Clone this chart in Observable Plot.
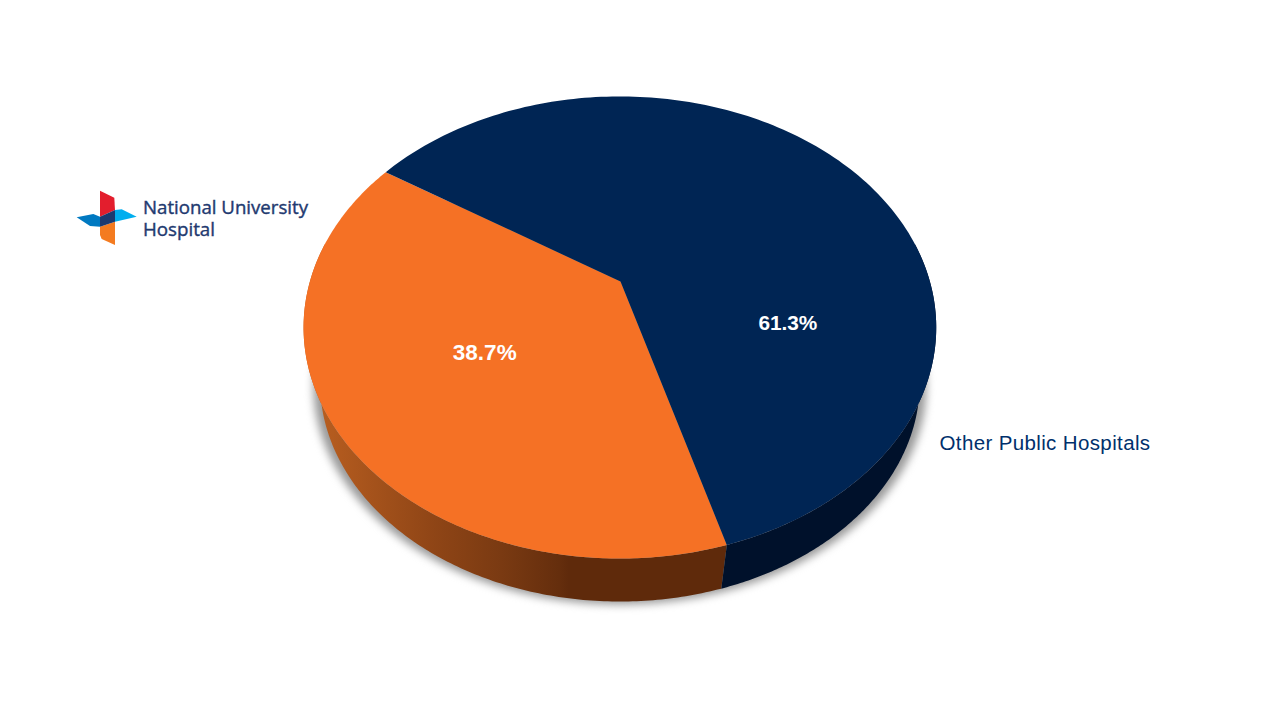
<!DOCTYPE html>
<html>
<head>
<meta charset="utf-8">
<script src="https://cdn.jsdelivr.net/npm/d3@7"></script>
<script src="https://cdn.jsdelivr.net/npm/@observablehq/plot@0.6"></script>
<style>
html,body{margin:0;padding:0;background:#fff;}
svg{display:block;}
</style>
</head>
<body>
<div id="chart"></div>
<script>
// Data
const categories = ["National University Hospital", "Other Public Hospitals"];
const shares = [38.7, 61.3];
const valueLabels = ["38.7%", "61.3%"];
const outsideLabel = "Other Public Hospitals";
const logoLines = ["National University", "Hospital"];

// Layout: perspective view of the tilted pie, in page pixels
const pieView = {cx: 619.4, apexY: 281, R: 310, S: 221.9, k: 0.199, startDeg: -16.2,
  baseScale: 0.948, baseApexY: 338.4, wallLimitDeg: 100};
const colors = {orange: "#F57125", navy: "#002554", navyWall: "#00112B", label: "#00306C"};
const rad = d => d * Math.PI / 180;

function topPoint(t, r = 1) {
  const u = -Math.sin(t) * r, v = Math.cos(t) * r, w = 1 - pieView.k * v;
  return {x: pieView.cx + pieView.R * u / w, y: pieView.apexY + pieView.S * v / w};
}
function basePoint(t) {
  const u = -Math.sin(t), v = Math.cos(t), w = 1 - pieView.k * v, s = pieView.baseScale;
  return {x: pieView.cx + s * pieView.R * u / w, y: pieView.baseApexY + s * pieView.S * v / w};
}
function angles(a, b, n = 180) {
  return d3.range(n + 1).map(i => rad(a + (b - a) * i / n));
}

// Slice angles come from the shares
const total = d3.sum(shares);
let acc = pieView.startDeg;
const slices = categories.map((c, i) => {
  const a = acc, b = acc + shares[i] / total * 360;
  acc = b;
  return {category: c, a, b};
});

const faceRows = slices.flatMap(s => [
  {category: s.category, x: pieView.cx + 0.6, y: pieView.apexY},
  ...angles(s.a, s.b).map(t => ({category: s.category, ...topPoint(t)}))
]);
function wall(a, b) {
  const ts = angles(a, b);
  return [...ts.map(t => topPoint(t)), ...ts.slice().reverse().map(t => basePoint(t))];
}
const orangeWall = wall(slices[0].a, pieView.wallLimitDeg);
const navyWall = wall(slices[0].a, -pieView.wallLimitDeg);
const shadowRows = angles(0, 360, 360).map(t => basePoint(t))
  .map(p => ({x: pieView.cx + (p.x - pieView.cx) * 1.022, y: p.y + 3}));

// Label placement in the pie plane (radius, angle)
const labelPlace = [{deg: 53.8, r: 0.508}, {deg: -70.8, r: 0.553}];
const labelRows = valueLabels.map((text, i) => ({text, ...topPoint(rad(labelPlace[i].deg), labelPlace[i].r)}));

const plot = Plot.plot({
  width: 1280, height: 720, margin: 0,
  x: {domain: [0, 1280], range: [0, 1280], axis: null},
  y: {domain: [0, 720], range: [0, 720], axis: null},
  color: {domain: categories, range: [colors.orange, colors.navy]},
  style: {background: "#fff"},
  marks: [
    Plot.line(shadowRows, {x: "x", y: "y", fill: "#999999", stroke: "none", imageFilter: "blur(4.5px)"}),
    Plot.line(orangeWall, {x: "x", y: "y", fill: "url(#orangeWall)", stroke: "none"}),
    Plot.line(navyWall, {x: "x", y: "y", fill: colors.navyWall, stroke: "none"}),
    Plot.line(faceRows, {x: "x", y: "y", z: "category", fill: "category", stroke: "none"}),
    Plot.text(labelRows.slice(0, 1), {x: "x", y: "y", text: "text", fill: "#fff", fontWeight: "bold", fontSize: 22.5, fontFamily: "Liberation Sans"}),
    Plot.text(labelRows.slice(1), {x: "x", y: "y", text: "text", fill: "#fff", fontWeight: "bold", fontSize: 20.8, fontFamily: "Liberation Sans"}),
    Plot.text([outsideLabel], {x: () => 939, y: () => 443, text: d => d, textAnchor: "start", fill: colors.label, fontSize: 20.5, fontFamily: "Liberation Sans"})
  ]
});
document.getElementById("chart").append(plot);

const svg = d3.select(plot);
svg.selectAll("text").filter(function () { return this.textContent === outsideLabel; }).style("letter-spacing", "0.37px");

// Wall gradient
const grad = svg.insert("defs", ":first-child").append("linearGradient")
  .attr("id", "orangeWall").attr("gradientUnits", "userSpaceOnUse")
  .attr("x1", 318).attr("x2", 1280).attr("y1", 0).attr("y2", 0);
[[0, "#B85E20"], [0.12, "#8F4516"], [0.19, "#7A3A12"], [0.25, "#652E0D"], [0.26, "#5F2A0B"], [1, "#5F2A0B"]]
  .forEach(([o, c]) => grad.append("stop").attr("offset", o).attr("stop-color", c));

// Logo
const logo = svg.append("g").attr("aria-label", "logo");
[
  ["#E31E2D", "100,190.7 114.3,197.7 115,210 100,216.7"],
  ["#00AEEF", "115,210 121.7,209.3 136.7,216.7 115,221.7"],
  ["#0079C1", "76.7,217.3 93.3,214 100,216.7 100,226.7 90,226"],
  ["#F47B20", "100,226.7 115,221.7 115,245 101.7,239 100,235"],
  ["#1B3A70", "100,216.7 115,210 115,221.7 100,226.7"]
].forEach(([c, p]) => logo.append("polygon").attr("points", p).attr("fill", c));
[[logoLines[0], 213.5, 165], [logoLines[1], 236, 72]].forEach(([t, y, len]) =>
  logo.append("text").text(t).attr("x", 143).attr("y", y).attr("text-anchor", "start")
    .attr("font-family", "Open Sans").attr("font-size", 18.5).attr("fill", "#1F3A70")
    .attr("stroke", "#1F3A70").attr("stroke-width", 0.4)
    .attr("textLength", len).attr("lengthAdjust", "spacingAndGlyphs"));
</script>
</body>
</html>
